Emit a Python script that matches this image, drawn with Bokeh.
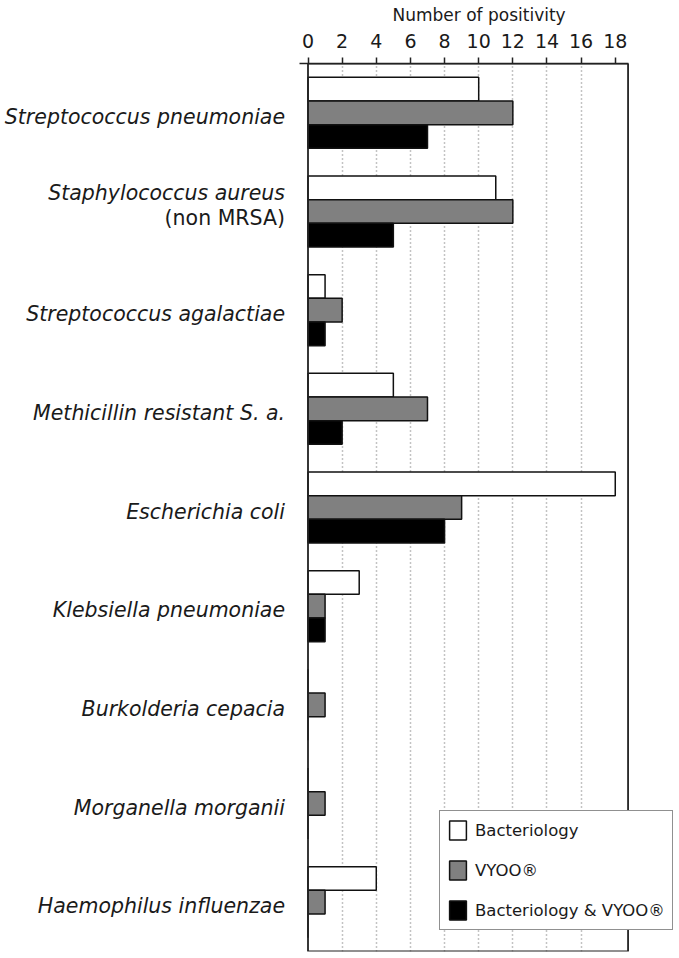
from bokeh.plotting import figure
from bokeh.models import (FactorRange, Range1d, FixedTicker, Legend, LegendItem,
                          BoxAnnotation, ColumnDataSource)
from bokeh.core.properties import value
from bokeh.transform import dodge
from bokeh.embed import file_html
from bokeh.resources import INLINE

categories = ["Streptococcus pneumoniae", "Staphylococcus aureus (non MRSA)",
              "Streptococcus agalactiae", "Methicillin resistant S. a.",
              "Escherichia coli", "Klebsiella pneumoniae", "Burkolderia cepacia",
              "Morganella morganii", "Haemophilus influenzae"]
label_main = ["Streptococcus pneumoniae", "Staphylococcus aureus",
              "Streptococcus agalactiae", "Methicillin resistant S. a.",
              "Escherichia coli", "Klebsiella pneumoniae", "Burkolderia cepacia",
              "Morganella morganii", "Haemophilus influenzae"]
label_note = ["", "(non MRSA)", "", "", "", "", "", "", ""]
bacteriology = [10, 11, 1, 5, 18, 3, 0, 0, 4]
vyoo = [12, 12, 2, 7, 9, 1, 1, 1, 1]
both = [7, 5, 1, 2, 8, 1, 0, 0, 0]
x_ticks = [0, 2, 4, 6, 8, 10, 12, 14, 16, 18]
grid_ticks = [2, 4, 6, 8, 10, 12, 14, 16]
series_names = ["Bacteriology", "VYOO®", "Bacteriology & VYOO®"]

FONT = "DejaVu Sans"
X_MAX = 18.75          # right edge of the drawn plot box
PX_PER_UNIT = 17.07
LEFT_PX = 307.5        # room for the category labels
W, H = 679, 956

factors = list(reversed(categories))
x_start = -LEFT_PX / PX_PER_UNIT
x_end = (W - LEFT_PX) / PX_PER_UNIT
p = figure(width=W, height=H, output_backend="svg", toolbar_location=None,
           x_axis_location="above",
           y_range=FactorRange(factors=factors, range_padding=0),
           x_range=Range1d(x_start, x_end),
           min_border_left=0, min_border_right=0, min_border_top=0, min_border_bottom=5)
p.outline_line_color = None
p.yaxis.visible = False
p.ygrid.visible = False

# title (axis caption)
p.title.text = "Number of positivity"
p.title.align = "left"
p.title.offset = 392
p.title.text_font = FONT
p.title.text_font_size = "17px"
p.title.text_font_style = "normal"
p.title.text_color = "#1a1a1a"
p.title.text_line_height = 1.0
p.title.vertical_align = "top"
p.title.standoff = 8

data = ColumnDataSource(dict(cat=categories, b=bacteriology, v=vyoo, bv=both))
bh = 0.24
r1 = p.hbar(y=dodge("cat", bh, range=p.y_range), right="b", left=0, height=bh, source=data,
            fill_color="white", line_color="#111111", line_width=1.5)
r2 = p.hbar(y=dodge("cat", 0, range=p.y_range), right="v", left=0, height=bh, source=data,
            fill_color="#808080", line_color="#111111", line_width=1.5)
r3 = p.hbar(y=dodge("cat", -bh, range=p.y_range), right="bv", left=0, height=bh, source=data,
            fill_color="black", line_color="#111111", line_width=1.5)

# plot box
p.add_layout(BoxAnnotation(left=0, right=X_MAX, fill_alpha=0, fill_color=None,
                           line_color="#222222", line_width=1.8, line_alpha=1))

# grid
p.xgrid.ticker = FixedTicker(ticks=grid_ticks)
p.xgrid.grid_line_color = "#888888"
p.xgrid.grid_line_dash = "1 3"
p.xgrid.grid_line_width = 1.5
p.xgrid.bounds = (0, X_MAX)

# top axis
xa = p.xaxis[0]
xa.ticker = FixedTicker(ticks=x_ticks)
xa.bounds = (-0.5, X_MAX)
xa.major_label_text_font = FONT
xa.major_label_text_font_size = "19px"
xa.major_label_text_color = "#1a1a1a"
xa.major_label_standoff = 10
xa.major_tick_out = 6
xa.major_tick_in = 0
xa.minor_tick_out = 0
xa.minor_tick_in = 0
xa.axis_line_color = "#222222"
xa.axis_line_width = 1.5
xa.major_tick_line_color = "#222222"
xa.major_tick_line_width = 1.5

# category labels
main_off = [-19 if n else 4 for n in label_note]
note_off = [6 if n else 0 for n in label_note]
lab = ColumnDataSource(dict(cat=categories, main=label_main, note=label_note,
                            moff=main_off, noff=note_off))
p.text(x=0, y="cat", text="main", source=lab, x_offset=-23, y_offset="moff",
       text_align="right", text_baseline="middle", text_font=value(FONT),
       text_font_size="20.5px", text_font_style="italic", text_color="#1a1a1a")
p.text(x=0, y="cat", text="note", source=lab, x_offset=-23, y_offset="noff",
       text_align="right", text_baseline="middle", text_font=value(FONT),
       text_font_size="20.5px", text_font_style="normal", text_color="#1a1a1a")

legend = Legend(items=[LegendItem(label=series_names[0], renderers=[r1]),
                       LegendItem(label=series_names[1], renderers=[r2]),
                       LegendItem(label=series_names[2], renderers=[r3])],
                location=(439, 21))
legend.label_text_font = FONT
legend.label_text_font_size = "16.5px"
legend.label_text_color = "#1a1a1a"
legend.glyph_width = 21
legend.glyph_height = 24
legend.label_height = 24
legend.label_standoff = 7
legend.spacing = 16
legend.padding = 7
legend.margin = 0
legend.border_line_color = "#222222"
legend.border_line_width = 1.5
legend.background_fill_alpha = 1
p.add_layout(legend, "center")

open("out.html", "w").write(file_html(p, INLINE))
